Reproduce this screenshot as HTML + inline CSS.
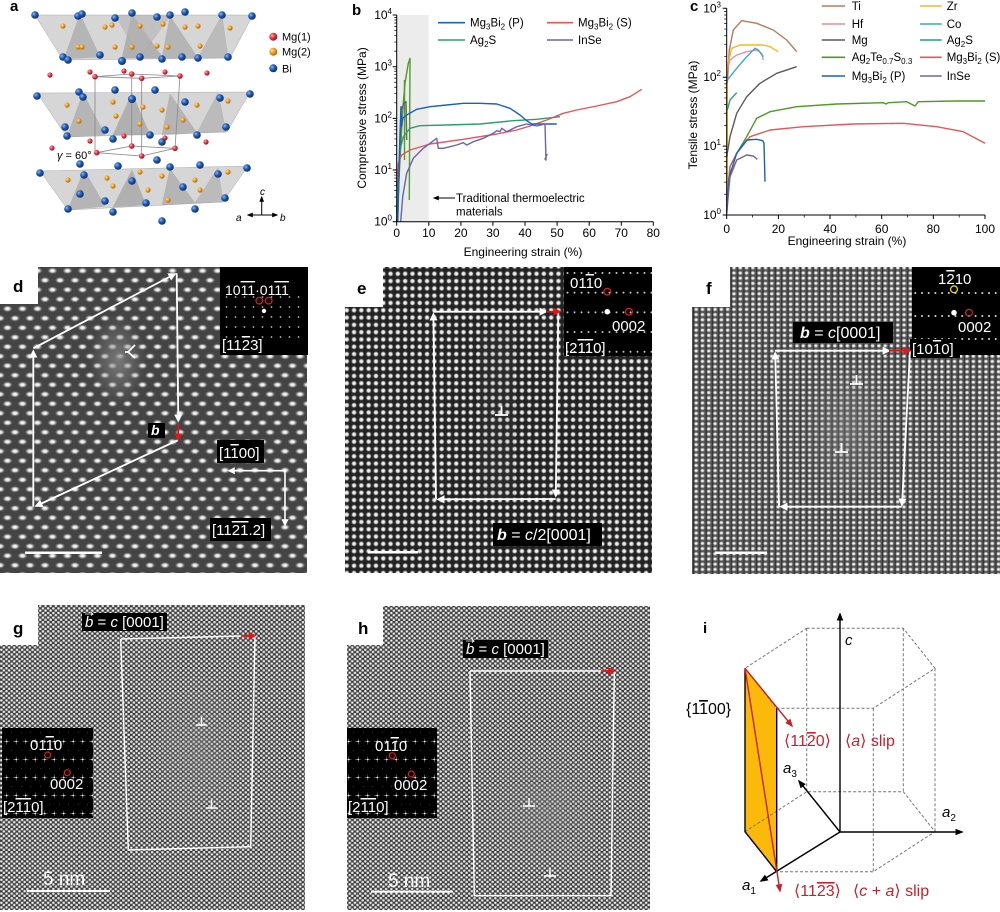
<!DOCTYPE html>
<html><head><meta charset="utf-8"><style>
html,body{margin:0;padding:0;background:#fff;}
svg{display:block;font-family:"Liberation Sans","DejaVu Sans",Arial,sans-serif;}
.ov{text-decoration:overline;}
</style></head><body>
<svg width="1000" height="912" viewBox="0 0 1000 912" xmlns="http://www.w3.org/2000/svg">
<defs>
<radialGradient id="gb"><stop offset="0" stop-color="#fff"/><stop offset="0.4" stop-color="#e0e0e0"/><stop offset="1" stop-color="#888" stop-opacity="0"/></radialGradient>
<radialGradient id="gs"><stop offset="0" stop-color="#fff"/><stop offset="0.5" stop-color="#dcdcdc"/><stop offset="1" stop-color="#777" stop-opacity="0"/></radialGradient>
<radialGradient id="blue" cx="0.35" cy="0.35" r="0.7"><stop offset="0" stop-color="#8fb8f0"/><stop offset="0.45" stop-color="#1f5cb8"/><stop offset="1" stop-color="#0a2b66"/></radialGradient>
<radialGradient id="orng" cx="0.35" cy="0.35" r="0.7"><stop offset="0" stop-color="#ffe0a0"/><stop offset="0.5" stop-color="#eb9a1c"/><stop offset="1" stop-color="#a8600a"/></radialGradient>
<radialGradient id="redb" cx="0.35" cy="0.35" r="0.7"><stop offset="0" stop-color="#ffb0b0"/><stop offset="0.5" stop-color="#e43040"/><stop offset="1" stop-color="#9a1020"/></radialGradient>
<radialGradient id="haze"><stop offset="0" stop-color="#8a8a8a" stop-opacity="0.75"/><stop offset="1" stop-color="#8a8a8a" stop-opacity="0"/></radialGradient>
<pattern id="pd" width="15" height="19" patternUnits="userSpaceOnUse">
<rect width="15" height="19" fill="#444"/>
<ellipse cx="7.5" cy="4.75" rx="5.2" ry="3.4" fill="url(#gb)"/>
<ellipse cx="0" cy="14.25" rx="5.2" ry="3.4" fill="url(#gb)"/>
<ellipse cx="15" cy="14.25" rx="5.2" ry="3.4" fill="url(#gb)"/>
</pattern>
<pattern id="pe" width="7.3" height="7.3" patternUnits="userSpaceOnUse">
<rect width="7.3" height="7.3" fill="#222"/>
<circle cx="3.65" cy="3.65" r="3.1" fill="url(#gs)"/>
</pattern>
<pattern id="pf" width="6.3" height="5.2" patternUnits="userSpaceOnUse">
<rect width="6.3" height="5.2" fill="#555"/>
<rect width="1.2" height="5.2" fill="#333"/>
<ellipse cx="3.15" cy="2.6" rx="2.6" ry="2.3" fill="url(#gs)"/>
</pattern>
<pattern id="pg" width="5.2" height="4.6" patternUnits="userSpaceOnUse">
<rect width="5.2" height="4.6" fill="#3c3c3c"/>
<circle cx="1.3" cy="1.15" r="1.9" fill="url(#gs)"/>
<circle cx="3.9" cy="3.45" r="1.9" fill="url(#gs)"/>
</pattern>
<pattern id="fd" width="9" height="10" patternUnits="userSpaceOnUse" patternTransform="translate(222,294)">
<circle cx="4.5" cy="3" r="0.9" fill="#bbb"/>
</pattern>
<pattern id="fe" width="7" height="19.7" patternUnits="userSpaceOnUse" patternTransform="translate(564,270)">
<circle cx="3.5" cy="3" r="1" fill="#ccc"/>
</pattern>
<pattern id="ff" width="6.7" height="23" patternUnits="userSpaceOnUse" patternTransform="translate(912,267)">
<circle cx="3.3" cy="0" r="1" fill="#ddd"/>
<circle cx="3.3" cy="23" r="1" fill="#ddd"/>
</pattern>
<pattern id="fg" width="9.5" height="18" patternUnits="userSpaceOnUse" patternTransform="translate(2,737)">
<path d="M4.75,4.5 h-3 h6 M4.75,4.5 v-3 v6" stroke="#777" stroke-width="0.5"/>
<circle cx="4.75" cy="4.5" r="0.9" fill="#eee"/>
<circle cx="0" cy="13.5" r="0.5" fill="#888"/>
</pattern>
<marker id="aw" viewBox="0 0 10 10" refX="8" refY="5" markerWidth="4.5" markerHeight="4.5" orient="auto"><path d="M0,0 L10,5 L0,10 z" fill="#fff"/></marker>
<marker id="ar" viewBox="0 0 10 10" refX="8" refY="5" markerWidth="4.5" markerHeight="4.5" orient="auto"><path d="M0,0 L10,5 L0,10 z" fill="#e01818"/></marker>
<marker id="ak" viewBox="0 0 10 10" refX="8" refY="5" markerWidth="6" markerHeight="6" orient="auto"><path d="M0,1 L10,5 L0,9 z" fill="#000"/></marker>
<marker id="ark" viewBox="0 0 10 10" refX="8" refY="5" markerWidth="6" markerHeight="6" orient="auto"><path d="M0,1 L10,5 L0,9 z" fill="#c8202a"/></marker>
</defs>

<!-- ================= PANEL A ================= -->
<text x="10" y="11" font-size="15" font-weight="bold">a</text>
<g stroke="#9a9a9a" stroke-width="0.4">
<polygon points="35,15 253,15 230,58 63,60" fill="#d6d6d6"/>
<polygon points="80,14 64,59 100,57" fill="#a8a8a8" opacity="0.7"/>
<polygon points="132,14 122,58 163,58" fill="#a0a0a0" opacity="0.7"/>
<polygon points="115,15 140,58 170,16" fill="#b4b4b4" opacity="0.6"/>
<polygon points="170,16 162,58 198,58" fill="#a8a8a8" opacity="0.7"/>
<polygon points="222,15 198,58 228,58" fill="#b0b0b0" opacity="0.7"/>
<polygon points="37,93 250,92 227,132 67,137" fill="#d6d6d6"/>
<polygon points="83,93 67,137 105,135" fill="#a8a8a8" opacity="0.7"/>
<polygon points="132,93 113,135 150,135" fill="#a0a0a0" opacity="0.7"/>
<polygon points="170,94 162,135 197,133" fill="#a8a8a8" opacity="0.7"/>
<polygon points="218,93 197,133 226,132" fill="#b0b0b0" opacity="0.7"/>
<polygon points="40,171 248,166 223,202 68,210" fill="#d6d6d6"/>
<polygon points="84,170 68,210 105,206" fill="#a8a8a8" opacity="0.7"/>
<polygon points="132,170 113,207 146,205" fill="#a0a0a0" opacity="0.7"/>
<polygon points="170,169 162,205 195,203" fill="#a8a8a8" opacity="0.7"/>
<polygon points="218,168 195,203 223,202" fill="#b0b0b0" opacity="0.7"/>
</g>
<g stroke="#888" stroke-width="0.8" fill="none">
<polygon points="95,76.7 131.7,74 180,76 141.7,78.3"/>
<polygon points="96.7,152.7 131.7,146 175,148.3 141.7,156"/>
<path d="M95,76.7 V152.7 M131.7,74 V146 M180,76 L175,148.3 M141.7,78.3 V156"/>
</g>
<g fill="url(#orng)">
<circle cx="63" cy="26" r="2.6"/><circle cx="105" cy="27" r="2.6"/><circle cx="112" cy="25" r="2.6"/><circle cx="140" cy="26" r="2.6"/><circle cx="163" cy="24" r="2.6"/><circle cx="185" cy="27" r="2.6"/><circle cx="198" cy="26" r="2.6"/><circle cx="230" cy="28" r="2.6"/>
<circle cx="78" cy="47" r="2.6"/><circle cx="82" cy="47" r="2.6"/><circle cx="115" cy="47" r="2.6"/><circle cx="132" cy="47" r="2.6"/><circle cx="157" cy="46" r="2.6"/><circle cx="168" cy="47" r="2.6"/><circle cx="200" cy="46" r="2.6"/>
<circle cx="67" cy="105" r="2.6"/><circle cx="113" cy="102" r="2.6"/><circle cx="143" cy="107" r="2.6"/><circle cx="162" cy="110" r="2.6"/><circle cx="197" cy="105" r="2.6"/><circle cx="228" cy="101" r="2.6"/>
<circle cx="79" cy="121" r="2.6"/><circle cx="116" cy="116" r="2.6"/><circle cx="140" cy="124" r="2.6"/><circle cx="167" cy="127" r="2.6"/><circle cx="183" cy="120" r="2.6"/>
<circle cx="68" cy="180" r="2.6"/><circle cx="107" cy="178" r="2.6"/><circle cx="140" cy="172" r="2.6"/><circle cx="162" cy="176" r="2.6"/><circle cx="195" cy="180" r="2.6"/><circle cx="228" cy="172" r="2.6"/>
<circle cx="80" cy="192" r="2.6"/><circle cx="113" cy="186" r="2.6"/><circle cx="148" cy="190" r="2.6"/><circle cx="168" cy="200" r="2.6"/><circle cx="200" cy="190" r="2.6"/>
</g>
<g fill="url(#redb)">
<circle cx="50" cy="75" r="2.6"/><circle cx="90" cy="72" r="2.6"/><circle cx="124" cy="71" r="2.6"/><circle cx="131.7" cy="74" r="2.8"/><circle cx="141.7" cy="78.3" r="2.8"/><circle cx="95" cy="76.7" r="2.8"/><circle cx="165" cy="72" r="2.6"/><circle cx="180" cy="76" r="2.8"/><circle cx="207" cy="73" r="2.6"/>
<circle cx="52" cy="148" r="2.6"/><circle cx="90" cy="141" r="2.6"/><circle cx="124" cy="136" r="2.6"/><circle cx="131.7" cy="146" r="2.8"/><circle cx="141.7" cy="156" r="2.8"/><circle cx="96.7" cy="152.7" r="2.8"/><circle cx="165" cy="138" r="2.6"/><circle cx="175" cy="148.3" r="2.8"/><circle cx="206" cy="142" r="2.6"/>
</g>
<g fill="url(#blue)">
<circle cx="35" cy="15" r="3.8"/><circle cx="78" cy="16" r="3.8"/><circle cx="82" cy="14" r="3.8"/><circle cx="115" cy="18" r="3.8"/><circle cx="132" cy="13" r="3.8"/><circle cx="157" cy="17" r="3.8"/><circle cx="170" cy="15" r="3.8"/><circle cx="185" cy="12" r="3.8"/><circle cx="222" cy="15" r="3.8"/><circle cx="252" cy="16" r="3.8"/>
<circle cx="63" cy="57" r="3.8"/><circle cx="68" cy="60" r="3.8"/><circle cx="100" cy="55" r="3.8"/><circle cx="122" cy="61" r="4"/><circle cx="140" cy="57" r="3.8"/><circle cx="162" cy="59" r="3.8"/><circle cx="182" cy="57" r="3.8"/><circle cx="198" cy="58" r="3.8"/><circle cx="228" cy="57" r="3.8"/>
<circle cx="37" cy="96" r="3.8"/><circle cx="79" cy="92" r="3.8"/><circle cx="83" cy="97" r="3.8"/><circle cx="115" cy="90" r="3.8"/><circle cx="132" cy="99" r="4"/><circle cx="155" cy="90" r="3.8"/><circle cx="185" cy="102" r="3.8"/><circle cx="220" cy="98" r="3.8"/><circle cx="250" cy="94" r="3.8"/>
<circle cx="65" cy="127" r="3.8"/><circle cx="67" cy="136" r="3.8"/><circle cx="105" cy="130" r="3.8"/><circle cx="113" cy="139" r="3.8"/><circle cx="150" cy="135" r="3.8"/><circle cx="162" cy="142" r="3.8"/><circle cx="197" cy="135" r="3.8"/><circle cx="226" cy="127" r="3.8"/>
<circle cx="40" cy="173" r="3.8"/><circle cx="80" cy="164" r="3.8"/><circle cx="84" cy="175" r="3.8"/><circle cx="118" cy="166" r="3.8"/><circle cx="132" cy="181" r="3.8"/><circle cx="157" cy="160" r="3.8"/><circle cx="170" cy="167" r="3.8"/><circle cx="200" cy="165" r="3.8"/><circle cx="218" cy="174" r="3.8"/><circle cx="247" cy="168" r="3.8"/>
<circle cx="68" cy="209" r="3.8"/><circle cx="80" cy="194" r="3.8"/><circle cx="105" cy="201" r="3.8"/><circle cx="113" cy="212" r="3.8"/><circle cx="146" cy="203" r="3.8"/><circle cx="162" cy="221" r="3.8"/><circle cx="183" cy="187" r="3.8"/><circle cx="195" cy="209" r="3.8"/><circle cx="225" cy="198" r="3.8"/>
</g>
<text x="57" y="159" font-size="11"><tspan font-style="italic">γ</tspan> = 60°</text>
<circle cx="273.3" cy="36.7" r="4" fill="url(#redb)"/>
<circle cx="273.3" cy="51.7" r="4" fill="url(#orng)"/>
<circle cx="273.3" cy="68.3" r="4" fill="url(#blue)"/>
<text x="282" y="40.7" font-size="11">Mg(1)</text>
<text x="282" y="55.7" font-size="11">Mg(2)</text>
<text x="282" y="72.3" font-size="11">Bi</text>
<g stroke="#000" stroke-width="1" fill="none">
<path d="M261.7,215 V197" marker-end="url(#ak)"/>
<path d="M261.7,215 H248" marker-end="url(#ak)"/>
<path d="M261.7,215 H277" marker-end="url(#ak)"/>
</g>
<text x="260" y="195" font-size="10" font-style="italic">c</text>
<text x="236" y="221" font-size="10" font-style="italic">a</text>
<text x="280" y="221" font-size="10" font-style="italic">b</text>

<!-- ================= PANEL B ================= -->
<text x="352" y="15" font-size="15" font-weight="bold">b</text>
<rect x="396.7" y="15" width="32" height="206.7" fill="#ececec"/>
<g fill="none" stroke-width="1.4" stroke-linejoin="round">
<path d="M396.7,221.7 L400,160 L402.7,110 L405,83.3 L408.3,63.3 L410,58.3 L409.3,200" stroke="#4f9a2a"/>
<path d="M404.5,80 L404.5,160" stroke="#4f9a2a"/>
<path d="M397.7,221.7 L401,110 L404,103.3 L406,101.7 L406.7,140" stroke="#666"/>
<path d="M396.7,213.3 L398.3,173.3 L400,150 L403.3,136.7 L410,128.3 L420,125.7 L446.7,125 L480,124 L513.3,120.7 L536.7,119.3 L560,116.7" stroke="#2e9d6e"/>
<path d="M396.7,186.7 L398.3,163.3 L401.7,155 L410,150 L430,144 L463.3,139.3 L496.7,134 L516.7,130 L530,126 L546.7,120 L563.3,113.3 L576.7,110 L596.7,106 L616.7,101.7 L630,96.7 L641.7,89.3" stroke="#e2575b"/>
<path d="M397.7,221.7 L399,166.7 L400,133.3 L401,106.7 L401.7,126.7 L402.7,118.3 L406.7,115 L416.7,109.3 L430,106.7 L446.7,105 L463.3,103.3 L480,103.3 L496.7,104 L510,108.3 L520,115 L526.7,120.7 L531.7,124 L543.3,124 L556.7,124" stroke="#1763b9"/>
<path d="M400.7,221.7 L402.7,196.7 L406.7,173.3 L413.3,158.3 L423.3,148.3 L430,143.3 L436.7,138.3 L438.3,148.3 L443.3,148.3 L450,146.7 L456.7,145 L463.3,142.7 L466.7,145 L473.3,141.7 L483.3,138.3 L493.3,133.3 L496.7,130.7 L500,131.7 L501.7,128.3 L506.7,131.7 L516.7,126.7 L526.7,124 L536.7,126 L545,124 L546,160 L545,159 L547.3,154" stroke="#6b63ad"/>
</g>
<g stroke="#000" stroke-width="1" fill="none">
<path d="M396.7,15 V221.7 H653.3"/>
<path d="M396.7,221.7h-4 M396.7,170.03h-4 M396.7,118.36h-4 M396.7,66.69h-4 M396.7,15.02h-4"/>
<path stroke-width="0.7" d="M396.7,206.15h-2.5M396.7,197.05h-2.5M396.7,190.59h-2.5M396.7,185.58h-2.5M396.7,181.5h-2.5M396.7,178.04h-2.5M396.7,175.04h-2.5M396.7,172.41h-2.5M396.7,154.48h-2.5M396.7,145.38h-2.5M396.7,138.92h-2.5M396.7,133.91h-2.5M396.7,129.83h-2.5M396.7,126.37h-2.5M396.7,123.37h-2.5M396.7,120.74h-2.5M396.7,102.81h-2.5M396.7,93.71h-2.5M396.7,87.25h-2.5M396.7,82.24h-2.5M396.7,78.16h-2.5M396.7,74.7h-2.5M396.7,71.7h-2.5M396.7,69.07h-2.5M396.7,51.14h-2.5M396.7,42.04h-2.5M396.7,35.58h-2.5M396.7,30.57h-2.5M396.7,26.49h-2.5M396.7,23.03h-2.5M396.7,20.03h-2.5M396.7,17.4h-2.5"/>
<path d="M396.7,221.7v4M428.8,221.7v4M460.9,221.7v4M492.9,221.7v4M525,221.7v4M557.1,221.7v4M589.2,221.7v4M621.3,221.7v4M653.3,221.7v4"/>
</g>
<g font-size="12" text-anchor="middle">
<text x="396.7" y="237">0</text><text x="428.8" y="237">10</text><text x="460.9" y="237">20</text><text x="492.9" y="237">30</text><text x="525" y="237">40</text><text x="557.1" y="237">50</text><text x="589.2" y="237">60</text><text x="621.3" y="237">70</text><text x="653.3" y="237">80</text>
</g>
<g font-size="12" text-anchor="end">
<text x="392" y="225.7">10<tspan dy="-5" font-size="8">0</tspan></text>
<text x="392" y="174">10<tspan dy="-5" font-size="8">1</tspan></text>
<text x="392" y="122.4">10<tspan dy="-5" font-size="8">2</tspan></text>
<text x="392" y="70.7">10<tspan dy="-5" font-size="8">3</tspan></text>
<text x="392" y="19">10<tspan dy="-5" font-size="8">4</tspan></text>
</g>
<text transform="translate(366,118) rotate(-90)" font-size="12" text-anchor="middle">Compressive stress (MPa)</text>
<text x="523" y="256" font-size="12" text-anchor="middle">Engineering strain (%)</text>
<path d="M455,198 H434" stroke="#000" stroke-width="1" marker-end="url(#ak)"/>
<text x="456" y="202" font-size="11.5">Traditional thermoelectric</text>
<text x="456" y="215.5" font-size="11.5">materials</text>
<g stroke-width="1.6">
<line x1="438" y1="22.7" x2="465" y2="22.7" stroke="#1763b9"/>
<line x1="547" y1="22.7" x2="573" y2="22.7" stroke="#e2575b"/>
<line x1="438" y1="40" x2="465" y2="40" stroke="#2e9d6e"/>
<line x1="547" y1="40" x2="573" y2="40" stroke="#6b63ad"/>
</g>
<g font-size="11.5">
<text x="470" y="26.7">Mg<tspan dy="3" font-size="8">3</tspan><tspan dy="-3">Bi</tspan><tspan dy="3" font-size="8">2</tspan><tspan dy="-3"> (P)</tspan></text>
<text x="578" y="26.7">Mg<tspan dy="3" font-size="8">3</tspan><tspan dy="-3">Bi</tspan><tspan dy="3" font-size="8">2</tspan><tspan dy="-3"> (S)</tspan></text>
<text x="470" y="44">Ag<tspan dy="3" font-size="8">2</tspan><tspan dy="-3">S</tspan></text>
<text x="578" y="44">InSe</text>
</g>

<!-- ================= PANEL C ================= -->
<text x="690" y="11" font-size="15" font-weight="bold">c</text>
<g fill="none" stroke-width="1.4" stroke-linejoin="round">
<path d="M727.3,206.7 V66.7" stroke="#f8b818"/>
<path d="M727.3,83.3 L729.3,50 L733.3,30 L741.7,20.7 L756.7,23.3 L773.3,30 L786.7,40 L796.7,51.7" stroke="#b87a5c"/>
<path d="M727.3,66.7 L731.7,48.3 L740,45 L763.3,45 L770,46.7 L778.3,51.7" stroke="#f8b818"/>
<path d="M727.3,70 L730,60 L736.7,55 L746.7,51.7 L756.7,50 L761.7,53.3 L763.3,60" stroke="#ef8c96"/>
<path d="M727.3,80 L730,76.7 L736.7,68.3 L746.7,56.7 L755,48.3 L758.3,50 L763.3,56.7" stroke="#35a8cc"/>
<path d="M726.7,156.7 L730,136.7 L736.7,113.3 L746.7,96.7 L760,83.3 L776.7,73.3 L796.7,66.7" stroke="#5a5a5a"/>
<path d="M727.3,110 L730,100 L736.7,92.7" stroke="#1fa07f"/>
<path d="M726.7,200 L730,166.7 L736.7,153.3 L746.7,136.7 L756.7,118.3 L770,111.7 L796.7,106.7 L836.7,104 L883.3,102.7 L886,104 L888.3,102.7 L906.7,101.7 L915,106 L918.3,101.7 L956.7,101 L985,101" stroke="#4d9a22"/>
<path d="M726.7,206.7 L730,166.7 L736.7,153.3 L750,136.7 L770,130 L803.3,126.7 L853.3,124 L903.3,123.3 L936.7,126.7 L963.3,131.7 L985,143.3" stroke="#e2575b"/>
<path d="M726.7,213.3 L729.3,176.7 L736.7,153.3 L746.7,140 L756.7,139.3 L762.7,140.7 L764,143.3 L765,181.7" stroke="#1763b9"/>
<path d="M726.7,213.3 L730,176.7 L736.7,160 L746.7,155 L753.3,156 L757.3,159.3" stroke="#6b63ad"/>
</g>
<g stroke="#000" stroke-width="1" fill="none">
<path d="M726.7,8.3 V215 H985"/>
<path d="M726.7,215h-4M726.7,146.1h-4M726.7,77.2h-4M726.7,8.3h-4"/>
<path stroke-width="0.7" d="M726.7,194.26h-2.5M726.7,182.13h-2.5M726.7,173.52h-2.5M726.7,166.84h-2.5M726.7,161.4h-2.5M726.7,156.78h-2.5M726.7,152.78h-2.5M726.7,149.27h-2.5M726.7,125.36h-2.5M726.7,113.23h-2.5M726.7,104.62h-2.5M726.7,97.94h-2.5M726.7,92.5h-2.5M726.7,87.88h-2.5M726.7,83.88h-2.5M726.7,80.37h-2.5M726.7,56.46h-2.5M726.7,44.33h-2.5M726.7,35.72h-2.5M726.7,29.04h-2.5M726.7,23.6h-2.5M726.7,18.98h-2.5M726.7,14.98h-2.5M726.7,11.47h-2.5"/>
<path d="M726.7,215v4M778.4,215v4M830,215v4M881.7,215v4M933.3,215v4M985,215v4"/>
<path stroke-width="0.7" d="M752.5,215v2.5M804.2,215v2.5M855.9,215v2.5M907.5,215v2.5M959.2,215v2.5"/>
</g>
<g font-size="12" text-anchor="middle">
<text x="726.7" y="233">0</text><text x="778.4" y="233">20</text><text x="830" y="233">40</text><text x="881.7" y="233">60</text><text x="933.3" y="233">80</text><text x="985" y="233">100</text>
</g>
<g font-size="12" text-anchor="end">
<text x="721" y="219">10<tspan dy="-5" font-size="8">0</tspan></text>
<text x="721" y="150.1">10<tspan dy="-5" font-size="8">1</tspan></text>
<text x="721" y="81.2">10<tspan dy="-5" font-size="8">2</tspan></text>
<text x="721" y="12.3">10<tspan dy="-5" font-size="8">3</tspan></text>
</g>
<text transform="translate(697,115) rotate(-90)" font-size="12" text-anchor="middle">Tensile stress (MPa)</text>
<text x="847" y="245" font-size="12" text-anchor="middle">Engineering strain (%)</text>
<g stroke-width="1.6">
<line x1="821.7" y1="6" x2="845" y2="6" stroke="#b87a5c"/>
<line x1="920" y1="6" x2="941.7" y2="6" stroke="#f8b818"/>
<line x1="821.7" y1="24" x2="845" y2="24" stroke="#ef8c96"/>
<line x1="920" y1="24" x2="941.7" y2="24" stroke="#35a8cc"/>
<line x1="821.7" y1="40" x2="845" y2="40" stroke="#5a5a5a"/>
<line x1="920" y1="40" x2="941.7" y2="40" stroke="#1fa07f"/>
<line x1="821.7" y1="57.3" x2="845" y2="57.3" stroke="#4d9a22"/>
<line x1="920" y1="57.3" x2="941.7" y2="57.3" stroke="#e2575b"/>
<line x1="821.7" y1="76" x2="845" y2="76" stroke="#1763b9"/>
<line x1="920" y1="76" x2="941.7" y2="76" stroke="#6b63ad"/>
</g>
<g font-size="11.5">
<text x="851.7" y="10">Ti</text>
<text x="946.7" y="10">Zr</text>
<text x="851.7" y="28">Hf</text>
<text x="946.7" y="28">Co</text>
<text x="851.7" y="44">Mg</text>
<text x="946.7" y="44">Ag<tspan dy="3" font-size="8">2</tspan><tspan dy="-3">S</tspan></text>
<text x="851.7" y="61">Ag<tspan dy="3" font-size="8">2</tspan><tspan dy="-3">Te</tspan><tspan dy="3" font-size="8">0.7</tspan><tspan dy="-3">S</tspan><tspan dy="3" font-size="8">0.3</tspan></text>
<text x="946.7" y="61">Mg<tspan dy="3" font-size="8">3</tspan><tspan dy="-3">Bi</tspan><tspan dy="3" font-size="8">2</tspan><tspan dy="-3"> (S)</tspan></text>
<text x="851.7" y="80">Mg<tspan dy="3" font-size="8">3</tspan><tspan dy="-3">Bi</tspan><tspan dy="3" font-size="8">2</tspan><tspan dy="-3"> (P)</tspan></text>
<text x="946.7" y="80">InSe</text>
</g>

<!-- ================= PANEL D ================= -->
<rect x="0" y="267" width="307" height="306" fill="url(#pd)"/>
<ellipse cx="118" cy="360" rx="28" ry="45" fill="url(#haze)"/>
<rect x="0" y="267" width="38" height="37" fill="#fff"/>
<text x="13" y="292" font-size="17" font-weight="bold">d</text>
<rect x="220" y="267" width="88" height="88" fill="#000"/>
<rect x="222" y="294" width="84" height="46" fill="url(#fd)"/>
<circle cx="264" cy="311" r="2.2" fill="#fff"/>
<circle cx="259.3" cy="300.7" r="3.3" fill="none" stroke="#e02020" stroke-width="1.2"/>
<circle cx="268.7" cy="300.7" r="3.3" fill="none" stroke="#e02020" stroke-width="1.2"/>
<text x="225" y="295" font-size="14" fill="#fff">10<tspan class="ov">11</tspan>·01<tspan class="ov">11</tspan></text>
<text x="222" y="350" font-size="15" fill="#fff">[11<tspan class="ov">2</tspan>3]</text>
<g stroke="#fff" stroke-width="1.8" fill="none">
<path d="M33.3,506.7 L33.3,351" marker-end="url(#aw)"/>
<path d="M33.3,348.3 L175,274" marker-end="url(#aw)"/>
<path d="M176.7,273.3 L178.3,421" marker-end="url(#aw)"/>
<path d="M178.3,440 L36,506" marker-end="url(#aw)"/>
<path d="M128,352 L135,345 M128,352 L135,358 M128,352 L125,352"/>
</g>
<path d="M178.3,423 L178.3,440" stroke="#e01818" stroke-width="1.8" marker-end="url(#ar)"/>
<rect x="148" y="423" width="17" height="15" fill="#000"/>
<text x="151" y="435" font-size="14" font-weight="bold" font-style="italic" fill="#fff">b</text>
<rect x="217" y="440" width="47" height="23" fill="#000"/>
<text x="219" y="458" font-size="15" fill="#fff">[1<tspan class="ov">1</tspan>00]</text>
<g stroke="#fff" stroke-width="1.6" fill="none">
<path d="M285,470.7 L229,470.7" marker-end="url(#aw)"/>
<path d="M285,470.7 L285,525" marker-end="url(#aw)"/>
</g>
<rect x="210" y="518" width="61" height="23" fill="#000"/>
<text x="212" y="535" font-size="15" fill="#fff">[11<tspan class="ov">2</tspan><tspan class="ov">1</tspan>.2]</text>
<rect x="25" y="551.5" width="77" height="2.5" fill="#fff"/>

<!-- ================= PANEL E ================= -->
<rect x="345" y="267" width="307" height="306" fill="url(#pe)"/>
<rect x="480" y="330" width="35" height="170" fill="#666" opacity="0.12"/>
<rect x="345" y="267" width="38" height="40" fill="#fff"/>
<text x="357" y="294" font-size="17" font-weight="bold">e</text>
<rect x="564" y="267" width="88" height="89" fill="#000"/>
<rect x="564" y="268" width="88" height="88" fill="url(#fe)"/>
<circle cx="607.3" cy="311.7" r="2.8" fill="#fff"/>
<circle cx="607.3" cy="291.7" r="3.4" fill="none" stroke="#e02020" stroke-width="1.2"/>
<circle cx="629" cy="311.7" r="3.4" fill="none" stroke="#e02020" stroke-width="1.2"/>
<text x="570" y="288" font-size="15" fill="#fff">01<tspan class="ov">1</tspan>0</text>
<text x="612" y="331" font-size="15" fill="#fff">0002</text>
<text x="565" y="353" font-size="15" fill="#fff">[2<tspan class="ov">1</tspan><tspan class="ov">1</tspan>0]</text>
<g stroke="#fff" stroke-width="1.8" fill="none">
<path d="M433.3,311.7 L546,311.7" marker-end="url(#aw)"/>
<path d="M558.3,311.7 L555.8,496" marker-end="url(#aw)"/>
<path d="M555.7,499 L438,499.3" marker-end="url(#aw)"/>
<path d="M436,499.3 L433.4,314" marker-end="url(#aw)"/>
<path d="M495,415 h13 M501.5,415 v-9"/>
</g>
<path d="M546,311.7 L560,311.7" stroke="#c01818" stroke-width="1.8" marker-end="url(#ar)"/>
<rect x="493" y="523" width="109" height="23" fill="#000"/>
<text x="497" y="540" font-size="16" fill="#fff"><tspan font-weight="bold" font-style="italic">b</tspan> = <tspan font-style="italic">c</tspan>/2[0001]</text>
<rect x="368" y="551" width="50" height="2.5" fill="#fff"/>

<!-- ================= PANEL F ================= -->
<rect x="692" y="267" width="308" height="307" fill="url(#pf)"/>
<ellipse cx="848" cy="430" rx="50" ry="75" fill="url(#haze)" opacity="0.6"/>
<rect x="692" y="267" width="38" height="40" fill="#fff"/>
<text x="706" y="294" font-size="17" font-weight="bold">f</text>
<rect x="912" y="267" width="88" height="88" fill="#000"/>
<rect x="912" y="287" width="88" height="52" fill="url(#ff)" transform="translate(0,3)"/>
<circle cx="954" cy="312.7" r="2.8" fill="#fff"/>
<circle cx="954" cy="289.3" r="3.4" fill="none" stroke="#f0e020" stroke-width="1.2"/>
<circle cx="969" cy="312.7" r="3.4" fill="none" stroke="#e02020" stroke-width="1.2"/>
<text x="938" y="284" font-size="15" fill="#fff">1<tspan class="ov">2</tspan>10</text>
<text x="958" y="332" font-size="15" fill="#fff">0002</text>
<rect x="910" y="339" width="50" height="19" fill="#000"/>
<text x="912" y="354" font-size="15" fill="#fff">[10<tspan class="ov">1</tspan>0]</text>
<rect x="793" y="322" width="100" height="21" fill="#000"/>
<text x="800" y="338" font-size="16" fill="#fff"><tspan font-weight="bold" font-style="italic">b</tspan> = <tspan font-style="italic">c</tspan>[0001]</text>
<g stroke="#fff" stroke-width="1.8" fill="none">
<path d="M775,350.7 L889,350.7" marker-end="url(#aw)"/>
<path d="M910,350.7 L902,505" marker-end="url(#aw)"/>
<path d="M901.7,506.7 L781,506.7" marker-end="url(#aw)"/>
<path d="M779,506.7 L775.2,353" marker-end="url(#aw)"/>
<path d="M850,384 h13 M856.5,384 v-9"/>
<path d="M835,452 h13 M841.5,452 v-9"/>
</g>
<path d="M889,350.7 L910,350.7" stroke="#e01818" stroke-width="1.8" marker-end="url(#ar)"/>
<rect x="715" y="551.5" width="52" height="2.5" fill="#fff"/>

<!-- ================= PANEL G ================= -->
<rect x="0" y="605" width="305" height="305" fill="url(#pg)"/>
<ellipse cx="200" cy="750" rx="50" ry="85" fill="url(#haze)" opacity="0.5"/>
<rect x="0" y="605" width="38" height="40" fill="#fff"/>
<text x="13" y="634" font-size="17" font-weight="bold">g</text>
<rect x="82" y="613" width="85" height="18" fill="#000"/>
<text x="85" y="627" font-size="15" fill="#fff"><tspan font-style="italic">b</tspan> = <tspan font-style="italic">c</tspan> [0001]</text>
<path d="M85,614 h8 l-2,-1.5 M93,614 l-2,1.5" stroke="#fff" stroke-width="0.8" fill="none"/>
<rect x="2" y="728" width="91" height="90" fill="#000"/>
<rect x="2" y="732" width="91" height="84" fill="url(#fg)"/>
<circle cx="47.7" cy="755" r="3" fill="none" stroke="#e02020" stroke-width="1.2"/>
<circle cx="67.3" cy="772.7" r="3" fill="none" stroke="#e02020" stroke-width="1.2"/>
<text x="30" y="750" font-size="15" fill="#fff">01<tspan class="ov">1</tspan>0</text>
<text x="50" y="789" font-size="15" fill="#fff">0002</text>
<text x="3" y="812" font-size="15" fill="#fff">[2<tspan class="ov">1</tspan><tspan class="ov">1</tspan>0]</text>
<g stroke="#fff" stroke-width="1.4" fill="none">
<path d="M120.7,639 L243,636" />
<path d="M255,635.7 L250.7,846.7 L128.3,850 L120.7,639"/>
<path d="M196,725 h11 M201.5,725 v-8"/>
<path d="M206,808 h11 M211.5,808 v-8"/>
</g>
<path d="M241,636 L255,635.7" stroke="#e01818" stroke-width="1.8" marker-end="url(#ar)"/>
<text x="43" y="885" font-size="19" fill="#fff">5 nm</text>
<rect x="26.7" y="890" width="83.3" height="2" fill="#fff"/>

<!-- ================= PANEL H ================= -->
<rect x="347" y="606" width="303" height="304" fill="url(#pg)"/>
<ellipse cx="545" cy="810" rx="60" ry="70" fill="url(#haze)" opacity="0.5"/>
<rect x="347" y="606" width="36" height="39" fill="#fff"/>
<text x="358" y="634" font-size="17" font-weight="bold">h</text>
<rect x="463" y="640" width="85" height="18" fill="#000"/>
<text x="466" y="654" font-size="15" fill="#fff"><tspan font-style="italic">b</tspan> = <tspan font-style="italic">c</tspan> [0001]</text>
<path d="M466,641 h8 l-2,-1.5 M474,641 l-2,1.5" stroke="#fff" stroke-width="0.8" fill="none"/>
<rect x="347" y="728" width="90" height="90" fill="#000"/>
<rect x="347" y="732" width="90" height="84" fill="url(#fg)"/>
<circle cx="392.3" cy="755.7" r="3" fill="none" stroke="#e02020" stroke-width="1.2"/>
<circle cx="411.3" cy="774" r="3" fill="none" stroke="#e02020" stroke-width="1.2"/>
<text x="375" y="751" font-size="15" fill="#fff">01<tspan class="ov">1</tspan>0</text>
<text x="394" y="790" font-size="15" fill="#fff">0002</text>
<text x="348" y="812" font-size="15" fill="#fff">[2<tspan class="ov">1</tspan><tspan class="ov">1</tspan>0]</text>
<g stroke="#fff" stroke-width="1.4" fill="none">
<path d="M470,671 L603,671"/>
<path d="M614.3,671 L611,895.7 L474.3,895.7 L470,671"/>
<path d="M523,806 h12 M529,806 v-8"/>
<path d="M544,876 h12 M550,876 v-8"/>
</g>
<path d="M601,671 L614.3,671" stroke="#e01818" stroke-width="1.8" marker-end="url(#ar)"/>
<text x="388" y="887" font-size="19" fill="#fff">5 nm</text>
<rect x="371" y="890.7" width="82" height="2" fill="#fff"/>

<!-- ================= PANEL I ================= -->
<text x="703" y="633" font-size="15" font-weight="bold">i</text>
<polygon points="745,668.3 776.7,708.3 776.7,871.7 745,831.7" fill="#fbba0a"/>
<g stroke="#777" stroke-width="1" stroke-dasharray="3,2" fill="none">
<polygon points="806.7,628.3 903.3,628.3 935,668.3 873.3,708.3 776.7,708.3 745,668.3"/>
<path d="M745,831.7 L806.7,791.7 L903.3,791.7 L935,831.7 L873.3,871.7 L776.7,871.7"/>
<path d="M806.7,628.3 V791.7 M903.3,628.3 V791.7 M935,668.3 V831.7 M873.3,708.3 V871.7"/>
</g>
<g stroke="#000" stroke-width="1.4" fill="none">
<path d="M745,668.3 V831.7 L776.7,871.7 V708.3"/>
<path d="M840,832 V614" marker-end="url(#ak)"/>
<path d="M840,832 H962" marker-end="url(#ak)"/>
<path d="M840,832 L761,881" marker-end="url(#ak)"/>
<path d="M840,832 L799,781" marker-end="url(#ak)"/>
</g>
<g stroke="#c8202a" stroke-width="1.4" fill="none">
<path d="M745,668.3 L792,726" marker-end="url(#ark)"/>
<path d="M745,668.3 L780,891" marker-end="url(#ark)"/>
</g>
<text x="845" y="645" font-size="15" font-style="italic">c</text>
<text x="783" y="773" font-size="15" font-style="italic">a<tspan dy="4" font-size="10" font-style="normal">3</tspan></text>
<text x="942" y="817" font-size="15" font-style="italic">a<tspan dy="4" font-size="10" font-style="normal">2</tspan></text>
<text x="742" y="890" font-size="15" font-style="italic">a<tspan dy="4" font-size="10" font-style="normal">1</tspan></text>
<text x="686" y="714" font-size="16">{1<tspan class="ov">1</tspan>00}</text>
<g fill="#c8202a" font-size="16">
<text x="784" y="746">⟨11<tspan class="ov">2</tspan>0⟩</text>
<text x="845" y="746">⟨<tspan font-style="italic">a</tspan>⟩ slip</text>
<text x="794" y="896">⟨11<tspan class="ov">2</tspan><tspan class="ov">3</tspan>⟩</text>
<text x="853" y="896">⟨<tspan font-style="italic">c</tspan> + <tspan font-style="italic">a</tspan>⟩ slip</text>
</g>
</svg>
</body></html>
